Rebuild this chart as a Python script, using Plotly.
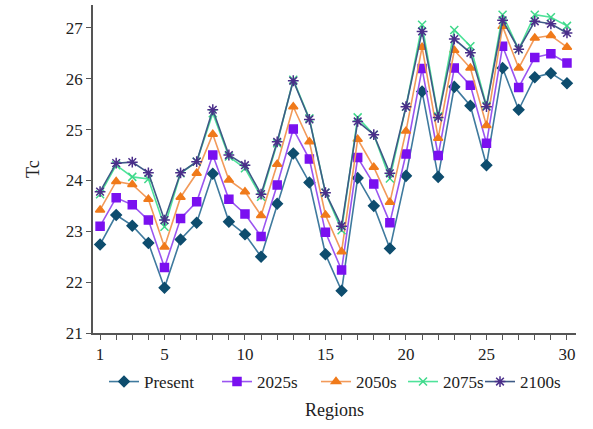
import plotly.graph_objects as go

regions = list(range(1, 31))
present = [22.74, 23.32, 23.11, 22.77, 21.89, 22.84, 23.17, 24.13, 23.19, 22.94,
           22.50, 23.54, 24.53, 23.96, 22.55, 21.83, 24.05, 23.50, 22.66, 24.09,
           25.75, 24.07, 25.84, 25.47, 24.30, 26.21, 25.39, 26.03, 26.11, 25.91]
s2025 = [23.10, 23.66, 23.52, 23.22, 22.29, 23.25, 23.58, 24.50, 23.63, 23.34,
         22.90, 23.91, 25.01, 24.42, 22.98, 22.24, 24.45, 23.93, 23.17, 24.52,
         26.20, 24.49, 26.21, 25.87, 24.73, 26.64, 25.83, 26.42, 26.49, 26.31]
s2050 = [23.42, 23.98, 23.92, 23.63, 22.69, 23.67, 24.14, 24.91, 24.01, 23.78,
         23.31, 24.32, 25.45, 24.76, 23.32, 22.60, 24.81, 24.26, 23.57, 24.97,
         26.62, 24.83, 26.56, 26.21, 25.08, 27.03, 26.21, 26.80, 26.85, 26.62]
s2075 = [23.73, 24.30, 24.07, 24.03, 23.09, 24.14, 24.37, 25.32, 24.47, 24.24,
         23.68, 24.73, 25.98, 25.22, 23.76, 23.02, 25.24, 24.90, 24.04, 25.45,
         27.06, 25.26, 26.96, 26.64, 25.47, 27.26, 26.58, 27.26, 27.21, 27.04]
s2100 = [23.78, 24.34, 24.36, 24.15, 23.22, 24.15, 24.37, 25.39, 24.50, 24.30,
         23.73, 24.76, 25.96, 25.20, 23.76, 23.10, 25.16, 24.90, 24.14, 25.45,
         26.93, 25.24, 26.78, 26.51, 25.45, 27.15, 26.58, 27.13, 27.08, 26.90]

x_ticks = [1, 5, 10, 15, 20, 25, 30]
y_ticks = [21, 22, 23, 24, 25, 26, 27]

series = [
    ("Present", present, "#3f7a9e", "#0e4d6e", "diamond", 8),
    ("2025s", s2025, "#9a55f0", "#7a10f0", "square", 8),
    ("2050s", s2050, "#f29a5a", "#f07a1a", "triangle-up", 8),
    ("2075s", s2075, "#4fe39a", "#3fd88a", "x-thin-open", 8),
    ("2100s", s2100, "#3d5a86", "#4a2e8a", "asterisk-open", 9),
]

# plot area geometry in pixels (for legend placement)
L, R, T, B = 93, 17, 5, 96
W, H = 593, 429
pw = W - L - R
ph = H - T - B
legend_line_starts = [112, 225, 324, 411, 488]

font = "Liberation Serif"
fig = go.Figure()
layout_legends = {}
for i, (name, vals, lc, mc, sym, sz) in enumerate(series):
    key = "legend" if i == 0 else f"legend{i+1}"
    fig.add_trace(go.Scatter(
        x=regions, y=vals, name=name, mode="lines+markers",
        line=dict(color=lc, width=1.6),
        marker=dict(symbol=sym, size=sz, color=mc, line=dict(color=mc, width=1.5)),
        legend=key,
    ))
    px = legend_line_starts[i] - 8
    layout_legends[key] = dict(
        x=(px - L) / pw, xanchor="left", y=(H - B - 382) / ph, yanchor="middle",
        orientation="h", font=dict(family=font, size=17, color="#222"),
        itemwidth=30, bgcolor="rgba(0,0,0,0)", borderwidth=0,
    )

fig.update_layout(
    width=W, height=H,
    margin=dict(l=L, r=R, t=T, b=B),
    paper_bgcolor="white", plot_bgcolor="white",
    font=dict(family=font, size=17, color="#222"),
    showlegend=True,
    xaxis=dict(range=[0.56, 30.56], tickmode="array", tickvals=x_ticks,
               ticktext=[str(t) for t in x_ticks],
               showgrid=False, zeroline=False, showline=True, linecolor="#555",
               linewidth=1.5, ticks="outside", ticklen=5, tickcolor="#555",
               minor=dict(dtick=1, ticks="outside", ticklen=5, tickcolor="#555"),
               title=dict(text="Regions", standoff=40, font=dict(size=18)),
               tickfont=dict(size=17)),
    yaxis=dict(range=[21, 27.45], tickmode="array", tickvals=y_ticks,
               showgrid=False, zeroline=False, showline=True, linecolor="#555",
               linewidth=1.5, ticks="outside", ticklen=5, tickcolor="#555",
               title=dict(text="Tc", standoff=22, font=dict(size=18)),
               tickfont=dict(size=17)),
    **layout_legends,
)

fig.write_html("out.html", config={"displayModeBar": False},
               post_script="document.body.style.margin='0';window.dispatchEvent(new Event('resize'));")
